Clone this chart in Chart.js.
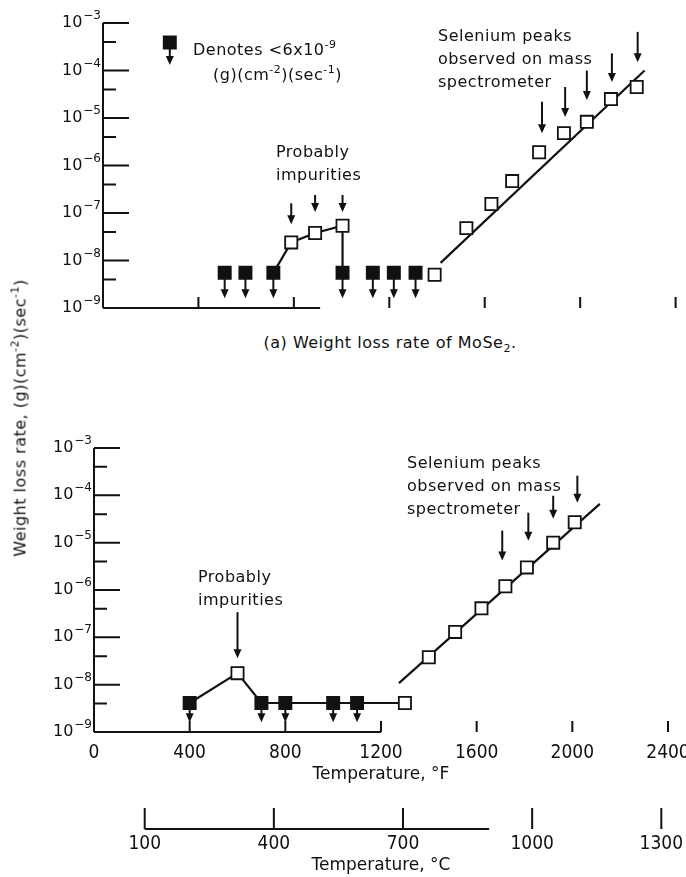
<!DOCTYPE html>
<html>
<head>
<meta charset="utf-8">
<script src="https://cdn.jsdelivr.net/npm/chart.js@4.4.1/dist/chart.umd.min.js"></script>
<style>
  html, body { margin: 0; padding: 0; background: #fff; }
  #wrap { position: relative; width: 686px; height: 877px; overflow: hidden; }
  canvas { position: absolute; left: 0; }
  #topChart { top: 0; }
  #botChart { top: 380px; }
  .note { position: absolute; font: 16px 'DejaVu Sans', sans-serif; letter-spacing: 0.5px; line-height: 23px; color: #111; white-space: nowrap; }
  .note sup { font-size: 11px; line-height: 0; vertical-align: 7px; }
  .note sub { font-size: 11px; line-height: 0; vertical-align: -4px; }
  #ytitle { left: 20px; top: 418px; transform: translate(-50%, -50%) rotate(-90deg); }
  #caption { left: 390px; top: 331px; transform: translateX(-50%); }
</style>
</head>
<body>
<div id="wrap">
  <canvas id="topChart" width="686" height="330"></canvas>
  <canvas id="botChart" width="686" height="497"></canvas>

  <div class="note" style="left:193px;top:38px;">Denotes &lt;6x10<sup>-9</sup></div>
  <div class="note" style="left:213px;top:63px;">(g)(cm<sup>-2</sup>)(sec<sup>-1</sup>)</div>
  <div class="note" style="left:276px;top:140px;">Probably<br>impurities</div>
  <div class="note" style="left:438px;top:24px;">Selenium peaks<br>observed on mass<br>spectrometer</div>
  <div class="note" id="caption">(a) Weight loss rate of MoSe<sub>2</sub>.</div>

  <div class="note" style="left:198px;top:565px;">Probably<br>impurities</div>
  <div class="note" style="left:407px;top:451px;">Selenium peaks<br>observed on mass<br>spectrometer</div>

  <div class="note" id="ytitle">Weight loss rate, (g)(cm<sup>-2</sup>)(sec<sup>-1</sup>)</div>
</div>

<script>
// axis ticks
const fTicks = [0, 400, 800, 1200, 1600, 2000, 2400];
const cTicks = [100, 400, 700, 1000, 1300];
const decades = [1e-3, 1e-4, 1e-5, 1e-6, 1e-7, 1e-8, 1e-9];
const minors = [4e-4, 4e-5, 4e-6, 4e-7, 4e-8, 4e-9];

// (a) MoSe2 - upper panel
const topFilledF = [510, 597, 714, 1004, 1131, 1219, 1310];
const topFilledV = [5.5e-9, 5.5e-9, 5.5e-9, 5.5e-9, 5.5e-9, 5.5e-9, 5.5e-9];
const topImpF = [789, 889, 1004];
const topImpV = [2.4e-8, 3.8e-8, 5.4e-8];
const topSeF = [1390, 1523, 1628, 1715, 1828, 1932, 2028, 2129, 2237];
const topSeV = [5.0e-9, 4.8e-8, 1.55e-7, 4.7e-7, 1.9e-6, 4.8e-6, 8.3e-6, 2.5e-5, 4.5e-5];
const topFitF = [1415, 2270];
const topFitV = [8.9e-9, 1.0e-4];
const topImpArrowFrom = [1.6e-7, 2.4e-7, 2.4e-7];
const topImpArrowTo = [5.8e-8, 1.05e-7, 1.05e-7];
const topSeArrowF = [1840, 1937, 2028, 2133, 2241];
const topSeArrowFrom = [2.2e-5, 4.5e-5, 1.0e-4, 2.3e-4, 6.5e-4];
const topSeArrowTo = [4.8e-6, 1.05e-5, 2.4e-5, 5.7e-5, 1.5e-4];
const legendF = [280];
const legendV = [3.9e-4];
const legendTip = 1.3e-4;

// lower panel
const botFilledF = [400, 700, 800, 1000, 1100];
const botFilledV = [4.1e-9, 4.1e-9, 4.1e-9, 4.1e-9, 4.1e-9];
const botImpF = [600];
const botImpV = [1.75e-8];
const botSeF = [1300, 1400, 1510, 1620, 1720, 1810, 1920, 2010];
const botSeV = [4.1e-9, 3.8e-8, 1.3e-7, 4.1e-7, 1.2e-6, 3.0e-6, 1.0e-5, 2.7e-5];
const botFitF = [1275, 2115];
const botFitV = [1.08e-8, 6.6e-5];
const botImpArrowFrom = [3.4e-7];
const botImpArrowTo = [3.6e-8];
const botSeArrowF = [1707, 1816, 1920, 2021];
const botSeArrowFrom = [1.8e-5, 4.3e-5, 9.8e-5, 2.6e-4];
const botSeArrowTo = [4.2e-6, 1.1e-5, 3.2e-5, 7.0e-5];

const belowTip = 1.6e-9;   // where the "less than" arrows end
const cLineEnd = 900;      // celsius axis line stops here

const ink = '#111';
const numFont = "'Liberation Sans Narrow', 'DejaVu Sans Condensed', 'DejaVu Sans', sans-serif";
const labFont = "'DejaVu Sans', sans-serif";

const pts = (F, V) => F.map((f, i) => ({ x: f, y: V[i] }));

function arrow(ctx, x, y1, y2) {
  const head = 9, half = 4;
  ctx.beginPath();
  ctx.moveTo(x, y1);
  ctx.lineTo(x, y2 - head + 1);
  ctx.stroke();
  ctx.beginPath();
  ctx.moveTo(x - half, y2 - head);
  ctx.lineTo(x + half, y2 - head);
  ctx.lineTo(x, y2);
  ctx.closePath();
  ctx.fill();
}

const framePlugin = {
  id: 'frame',
  beforeDatasetsDraw(chart, args, o) {
    const { ctx, chartArea: a, scales } = chart;
    const x = scales.x, y = scales.y;
    ctx.save();
    ctx.strokeStyle = ink;
    ctx.fillStyle = ink;
    ctx.lineWidth = 2;

    ctx.beginPath();
    ctx.moveTo(a.left, a.top);
    ctx.lineTo(a.left, a.bottom);
    decades.forEach(v => {
      const p = y.getPixelForValue(v);
      ctx.moveTo(a.left, p); ctx.lineTo(a.left + 26, p);
    });
    minors.forEach(v => {
      const p = y.getPixelForValue(v);
      ctx.moveTo(a.left, p); ctx.lineTo(a.left + 13, p);
    });
    ctx.moveTo(a.left, a.bottom);
    ctx.lineTo(x.getPixelForValue(o.baseEnd), a.bottom);
    fTicks.slice(1).forEach(f => {
      const p = x.getPixelForValue(f);
      ctx.moveTo(p, a.bottom); ctx.lineTo(p, a.bottom - 11);
    });
    ctx.stroke();

    // y tick labels 10^n
    ctx.textBaseline = 'middle';
    ctx.textAlign = 'right';
    decades.forEach(v => {
      const p = y.getPixelForValue(v);
      const ex = '\u2212' + Math.round(-Math.log10(v));
      ctx.font = '12px ' + labFont;
      const ew = ctx.measureText(ex).width;
      ctx.fillText(ex, a.left - 2, p - 7);
      ctx.font = '16px ' + labFont;
      ctx.fillText('10', a.left - 3 - ew, p);
    });

    // celsius axis
    if (scales.xC) {
      const c = scales.xC;
      const ly = c.top + 35;
      ctx.beginPath();
      ctx.moveTo(c.getPixelForValue(cTicks[0]), ly);
      ctx.lineTo(c.getPixelForValue(cLineEnd), ly);
      cTicks.forEach(t => {
        const p = c.getPixelForValue(t);
        ctx.moveTo(p, ly); ctx.lineTo(p, ly - 21);
      });
      ctx.stroke();
    }

    // "less than" arrows under the filled squares
    o.filled.forEach(([F, V, tip]) => F.forEach((f, i) =>
      arrow(ctx, x.getPixelForValue(f), y.getPixelForValue(V[i]), y.getPixelForValue(tip))));
    // callout arrows
    o.callouts.forEach(([F, from, to]) => F.forEach((f, i) =>
      arrow(ctx, x.getPixelForValue(f), y.getPixelForValue(from[i]), y.getPixelForValue(to[i]))));
    ctx.restore();
  }
};

function squares(F, V, fill) {
  return {
    data: pts(F, V), pointStyle: 'rect', pointRadius: 8.6, pointHoverRadius: 8.6,
    backgroundColor: fill, borderColor: ink, borderWidth: 1.8, order: 1
  };
}
function path(data) {
  return { data, showLine: true, pointRadius: 0, borderColor: ink, borderWidth: 2.2, tension: 0, order: 3 };
}

function makeChart(id, datasets, layoutPad, frame, extraScales) {
  return new Chart(document.getElementById(id), {
    type: 'scatter',
    data: { datasets },
    plugins: [framePlugin],
    options: {
      responsive: false,
      animation: false,
      events: [],
      layout: { padding: layoutPad },
      plugins: { legend: { display: false }, tooltip: { enabled: false }, frame },
      scales: Object.assign({
        y: { type: 'logarithmic', min: 1e-9, max: 1e-3, display: false }
      }, extraScales)
    }
  });
}

// upper panel
makeChart('topChart', [
  squares(topFilledF, topFilledV, ink),
  squares(topImpF, topImpV, '#fff'),
  squares(topSeF, topSeV, '#fff'),
  squares(legendF, legendV, ink),
  path([...pts(topFilledF, topFilledV).slice(2, 3), ...pts(topImpF, topImpV), ...pts(topFilledF, topFilledV).slice(3, 4)]),
  path(pts(topFitF, topFitV))
], { left: 103, right: 9, top: 23, bottom: 22 }, {
  baseEnd: 910,
  filled: [[topFilledF, topFilledV, belowTip], [legendF, legendV, legendTip]],
  callouts: [[topImpF, topImpArrowFrom, topImpArrowTo], [topSeArrowF, topSeArrowFrom, topSeArrowTo]]
}, {
  x: { type: 'linear', min: 0, max: 2400, display: false }
});

// lower panel
const plain = v => String(v);
makeChart('botChart', [
  squares(botFilledF, botFilledV, ink),
  squares(botImpF, botImpV, '#fff'),
  squares(botSeF, botSeV, '#fff'),
  path([...pts(botFilledF, botFilledV).slice(0, 1), ...pts(botImpF, botImpV), ...pts(botFilledF, botFilledV).slice(1), ...pts(botSeF, botSeV).slice(0, 1)]),
  path(pts(botFitF, botFitV))
], { left: 94, right: 18, top: 68, bottom: 0 }, {
  baseEnd: 1200,
  filled: [[botFilledF, botFilledV, belowTip]],
  callouts: [[botImpF, botImpArrowFrom, botImpArrowTo], [botSeArrowF, botSeArrowFrom, botSeArrowTo]]
}, {
  x: {
    type: 'linear', min: 0, max: 2400, position: 'bottom',
    grid: { display: false }, border: { display: false },
    afterBuildTicks: s => { s.ticks = fTicks.map(v => ({ value: v })); },
    afterFit: s => { s.height = 62; s.paddingRight = 0; s.paddingLeft = 0; },
    ticks: { color: ink, font: { family: numFont, size: 19 }, padding: 2, maxRotation: 0, callback: plain },
    title: { display: true, text: 'Temperature, \u00B0F', color: ink, font: { family: labFont, size: 17 }, padding: { top: 0, bottom: 9 } }
  },
  xC: {
    type: 'linear', min: (0 - 32) / 1.8, max: (2400 - 32) / 1.8, position: 'bottom',
    grid: { display: false }, border: { display: false },
    afterBuildTicks: s => { s.ticks = cTicks.map(v => ({ value: v })); },
    afterFit: s => { s.height = 83; s.paddingRight = 0; s.paddingLeft = 0; },
    ticks: { color: ink, font: { family: numFont, size: 19 }, padding: 31, maxRotation: 0, callback: plain },
    title: { display: true, text: 'Temperature, \u00B0C', color: ink, font: { family: labFont, size: 17 }, padding: { top: 0, bottom: 1 } }
  }
});
</script>
</body>
</html>
